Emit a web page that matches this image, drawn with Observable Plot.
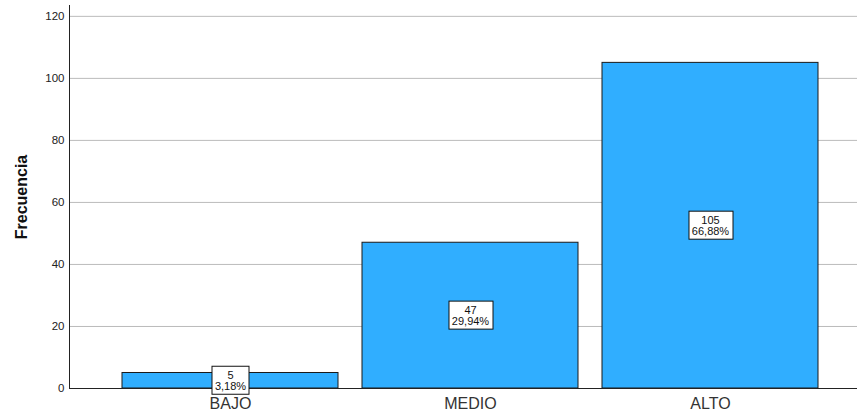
<!DOCTYPE html>
<html>
<head>
<meta charset="utf-8">
<script src="https://cdn.jsdelivr.net/npm/d3@7"></script>
<script src="https://cdn.jsdelivr.net/npm/@observablehq/plot@0.6"></script>
<style>
  html, body { margin: 0; padding: 0; background: #fff; }
  svg { display: block; }
</style>
</head>
<body>
<div id="chart"></div>
<script>
// Niveles y frecuencias observadas
const categories = ["BAJO", "MEDIO", "ALTO"];
const counts = [5, 47, 105];
const yTicks = [0, 20, 40, 60, 80, 100, 120];

const total = d3.sum(counts);
const fmtPct = (v) => (v * 100).toFixed(2).replace(".", ",") + "%";
const data = categories.map((c, i) => ({
  cat: c,
  count: counts[i],
  label: `${counts[i]}\n${fmtPct(counts[i] / total)}`
}));

// Left axis line drawn along the frame's left edge
const leftAxisLine = (index, scales, values, dims) => {
  const line = document.createElementNS("http://www.w3.org/2000/svg", "line");
  line.setAttribute("x1", dims.marginLeft + 0.5);
  line.setAttribute("x2", dims.marginLeft + 0.5);
  line.setAttribute("y1", dims.marginTop);
  line.setAttribute("y2", dims.height - dims.marginBottom);
  line.setAttribute("stroke", "#222");
  return line;
};

const chart = Plot.plot({
  width: 857,
  height: 414,
  marginLeft: 69,
  marginRight: 0,
  marginTop: 5,
  marginBottom: 26,
  style: { fontFamily: "'Liberation Sans', Arial, sans-serif", background: "#fff" },
  x: {
    type: "band",
    domain: categories,
    range: [69, 871],
    paddingInner: 0.0996,
    paddingOuter: 0.214
  },
  y: { domain: [0, 123.5] },
  marks: [
    Plot.gridY(yTicks.slice(1), { stroke: "#bbb", strokeOpacity: 1 }),
    Plot.barY(data, {
      x: "cat",
      y: "count",
      fill: "#30aeff",
      stroke: "#1a1a1a",
      strokeWidth: 1
    }),
    Plot.ruleY([0], { stroke: "#222" }),
    leftAxisLine,
    Plot.axisY(yTicks, {
      tickSize: 0,
      tickPadding: 5,
      fontSize: 11.5,
      fill: "#222",
      label: null
    }),
    Plot.text(["Frecuencia"], {
      frameAnchor: "left",
      textAnchor: "middle",
      dx: -48,
      rotate: -90,
      fontSize: 16,
      fontWeight: "bold",
      fill: "#111"
    }),
    Plot.axisX({
      tickSize: 0,
      tickPadding: 9,
      fontSize: 16,
      fill: "#333",
      label: null
    }),
    Plot.text(data, {
      x: "cat",
      y: (d) => d.count / 2,
      text: "label",
      fontSize: 11,
      lineHeight: 1.03,
      fill: "#111",
      className: "value-labels"
    })
  ]
});

document.getElementById("chart").append(chart);

// White boxes behind the value labels, sized from the rendered text
const svg = d3.select(chart.tagName.toLowerCase() === "svg" ? chart : chart.querySelector("svg"));
svg.selectAll("g.value-labels text").each(function () {
  const bb = this.getBBox();
  const padX = 3, padY = 2.5;
  const rect = document.createElementNS("http://www.w3.org/2000/svg", "rect");
  rect.setAttribute("x", Math.round(bb.x - padX) + 0.5);
  rect.setAttribute("y", Math.round(bb.y - padY) + 0.5);
  rect.setAttribute("width", Math.round(bb.width + 2 * padX));
  rect.setAttribute("height", Math.round(bb.height + 2 * padY));
  rect.setAttribute("fill", "#fff");
  rect.setAttribute("stroke", "#111");
  rect.setAttribute("stroke-width", 1);
  const t = this.getAttribute("transform");
  if (t) rect.setAttribute("transform", t);
  this.parentNode.insertBefore(rect, this);
});
</script>
</body>
</html>
